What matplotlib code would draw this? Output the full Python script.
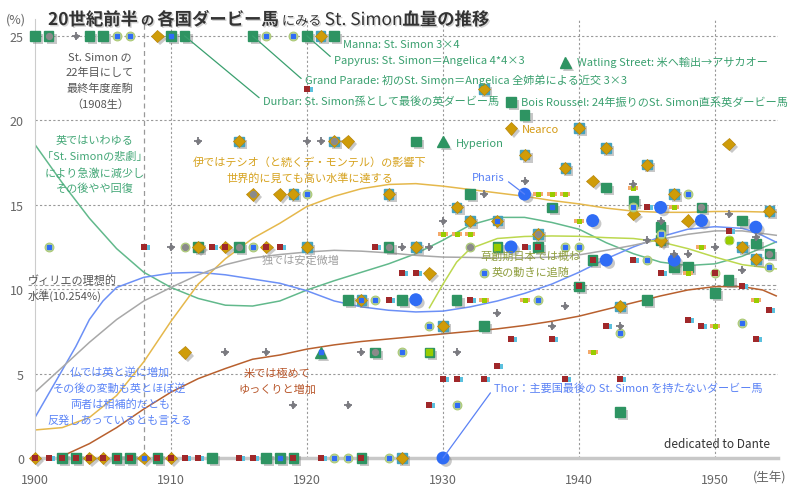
import matplotlib
matplotlib.use('Agg')
import matplotlib.pyplot as plt
import matplotlib.patheffects as pe
from matplotlib.path import Path

plt.rcParams['font.family'] = ['Noto Sans CJK JP', 'DejaVu Sans']

# ---- data (birth year, St. Simon blood %) ----
# England: green squares
uk_year = [1900, 1901, 1904, 1905, 1910, 1911, 1916, 1920, 1922,
           1928, 1932, 1935, 1936, 1942, 1944, 1946, 1938, 1949, 1952, 1946, 1953, 1954,
           1926, 1934, 1937, 1912, 1915, 1941, 1947, 1948, 1951, 1940, 1950,
           1923, 1927, 1931, 1945, 1933, 1925, 1929, 1943,
           1902, 1903, 1906, 1907, 1909, 1913, 1917, 1918, 1919, 1924]
uk_pct = [25, 25, 25, 25, 25, 25, 25, 25, 25,
          18.75, 15.625, 21.09, 20.31, 16.02, 15.23, 13.67, 14.84, 14.84, 14.06, 12.89, 12.7, 12.11,
          12.5, 12.5, 12.5, 12.5, 12.5, 11.72, 11.33, 11.33, 10.55, 10.16, 9.77,
          9.375, 9.375, 9.375, 9.375, 7.8125, 6.25, 6.25, 2.73,
          0, 0, 0, 0, 0, 0, 0, 0, 0, 0]
# England: highlighted winners (Watling Street, Hyperion, 1921)
bell_year = [1921, 1930, 1939]
bell_pct = [6.25, 18.75, 23.44]

# Italy: gold diamonds (on teal square / plain)
it_year = [1921, 1915, 1922, 1933, 1940, 1942, 1936, 1939, 1945, 1919, 1926, 1947, 1931,
           1954, 1932, 1934, 1937, 1920, 1928, 1952, 1953, 1924, 1943, 1930, 1927]
it_pct = [25, 18.75, 18.75, 21.875, 19.53, 18.36, 17.97, 17.19, 17.38, 15.625, 15.625, 15.625, 14.84,
          14.65, 14.06, 14.06, 13.28, 12.5, 12.5, 12.5, 11.8, 9.375, 8.98, 7.8125, 0]
it2_year = [1909, 1923, 1935, 1951, 1941, 1916, 1918, 1944, 1948, 1946, 1914, 1917, 1912,
            1929, 1911, 1900, 1904, 1905, 1908, 1910]
it2_pct = [25, 18.75, 19.53, 18.6, 16.41, 15.625, 15.625, 14.45, 14.06, 12.89, 12.5, 12.5, 12.5,
           10.94, 6.25, 0, 0, 0, 0, 0]

# ring markers (light green circles)
ring_year = [1906, 1907, 1917, 1919, 1901, 1916, 1920, 1948, 1944, 1946, 1939, 1940, 1945,
             1954, 1933, 1925, 1937, 1929, 1952, 1943, 1927, 1931, 1922, 1923, 1926,
             1911, 1932, 1950, 1951, 1935]
ring_pct = [25, 25, 25, 25, 12.5, 12.5, 15.625, 15.625, 14.84, 13.28, 12.5, 12.5, 11.72,
            11.33, 10.94, 9.375, 9.375, 7.8125, 8.0, 7.42, 6.25, 3.125, 0, 0, 0,
            12.5, 12.5, 10.94, 12.89, 12.5]

# France: large blue circles
fr_year = [1928, 1930, 1935, 1936, 1941, 1942, 1946, 1947, 1949, 1953]
fr_pct = [9.375, 0, 12.5, 15.625, 14.06, 11.72, 14.84, 11.72, 14.06, 13.67]

# small centre marks
blue_year = [1906, 1907, 1917, 1919, 1901, 1916, 1920, 1948, 1944, 1946, 1939, 1940, 1945,
             1954, 1933, 1925, 1937, 1929, 1952, 1943, 1927, 1931, 1922, 1923, 1926,
             1910, 1938, 1934, 1924, 1921, 1918, 1908]
blue_pct = [25, 25, 25, 25, 12.5, 12.5, 15.625, 15.625, 14.84, 13.28, 12.5, 12.5, 11.72,
            11.33, 10.94, 9.375, 9.375, 7.8125, 8.0, 7.42, 6.25, 3.125, 0, 0, 0,
            25, 14.84, 14.06, 9.375, 6.25, 0, 0]
grayin_year = [1901, 1922, 1916, 1937, 1915, 1926, 1949, 1954, 1925, 1911, 1932]
grayin_pct = [25, 18.75, 15.625, 13.28, 12.5, 12.5, 14.84, 12.11, 6.25, 12.5, 12.5]
redin_year = [1900, 1902, 1903, 1904, 1905, 1906, 1907, 1909, 1910, 1919, 1924,
              1914, 1917, 1937, 1941, 1940, 1950]
redin_pct = [0, 0, 0, 0, 0, 0, 0, 0, 0, 0, 0, 12.5, 12.5, 12.5, 11.72, 10.16, 10.94]
limein_year = [1934, 1929, 1951]
limein_pct = [12.5, 6.25, 12.89]

# Germany: gray stars
de_year = [1903, 1912, 1920, 1921, 1933, 1936, 1944, 1930, 1946, 1951, 1947, 1948, 1953,
           1945, 1910, 1927, 1929, 1950, 1952, 1939, 1934, 1938, 1943, 1914, 1917, 1924,
           1931, 1919, 1923]
de_pct = [25, 18.75, 18.75, 18.75, 15.625, 16.41, 16.23, 14.06, 14.06, 14.45, 12.11, 12.11, 13.09,
          12.89, 12.5, 12.5, 12.5, 12.5, 11.13, 8.98, 8.59, 7.8125, 7.8125, 6.25, 6.25, 6.25,
          6.25, 3.125, 3.125]

# USA: small red squares
us_year = [1920, 1908, 1913, 1918, 1925, 1936, 1945, 1951, 1927, 1928, 1946, 1944, 1952,
           1926, 1932, 1954, 1948, 1949, 1942, 1935, 1938, 1953, 1934, 1930, 1931, 1933,
           1939, 1943, 1929, 1901, 1911, 1912, 1915, 1916, 1921]
us_pct = [21.875, 12.5, 12.5, 12.5, 12.5, 12.5, 14.84, 13.47, 10.94, 10.94, 10.94, 11.72, 10.2,
          9.375, 9.375, 8.79, 8.2, 7.84, 7.84, 7.03, 7.03, 7.03, 5.47, 4.69, 4.69, 4.69,
          4.69, 4.69, 3.125, 0, 0, 0, 0, 0, 0]

# Japan: small lime marks
jp_year = [1937, 1938, 1939, 1944, 1947, 1930, 1931, 1932, 1940, 1933, 1936, 1953, 1949,
           1948, 1950, 1941]
jp_pct = [15.625, 15.625, 15.625, 16.0, 14.84, 13.28, 13.28, 13.28, 14.06, 9.375, 9.375, 9.375,
          12.5, 10.94, 7.8125, 6.25]

# trend curves
uk_cy = [1900, 1902, 1904, 1906, 1908, 1910, 1912, 1914, 1916, 1918, 1920, 1922, 1924, 1926,
         1928, 1930, 1932, 1934, 1936, 1938, 1940, 1942, 1944, 1946, 1948, 1950, 1952, 1954.5]
uk_cv = [18.56, 16.3, 14.2, 12.4, 11.0, 10.1, 9.45, 9.05, 9.0, 9.3, 9.95, 10.5, 11.0, 11.5,
         12.1, 12.9, 13.8, 14.25, 14.25, 13.95, 13.55, 12.75, 12.1, 11.6, 11.4, 11.5, 11.95, 12.8]
fr_cy = [1900, 1901, 1902, 1903, 1904, 1905, 1906, 1908, 1910, 1912, 1914, 1916, 1918, 1920,
         1922, 1924, 1926, 1928, 1930, 1932, 1934, 1936, 1938, 1940, 1942, 1944, 1946, 1948,
         1950, 1952, 1953, 1954.5]
fr_cv = [2.4, 3.8, 5.2, 6.6, 8.2, 9.3, 10.1, 10.7, 10.95, 11.0, 10.85, 10.6, 10.35, 9.9,
         9.3, 8.95, 8.75, 8.65, 8.7, 8.95, 9.3, 9.75, 10.3, 11.0, 11.8, 12.5, 13.1, 13.55,
         13.7, 13.6, 13.37, 12.78]
it_cy = [1900, 1902, 1904, 1906, 1908, 1910, 1912, 1914, 1916, 1918, 1920, 1922, 1924, 1926,
         1928, 1930, 1932, 1934, 1936, 1938, 1940, 1942, 1944, 1946, 1948, 1950, 1952, 1954.5]
it_cv = [1.66, 1.8, 2.4, 3.7, 5.7, 8.1, 10.3, 11.8, 13.0, 13.9, 14.9, 15.5, 15.95, 16.2,
         16.25, 16.1, 15.9, 15.7, 15.5, 15.25, 15.05, 14.8, 14.62, 14.55, 14.55, 14.6, 14.6, 14.55]
de_cy = [1900, 1902, 1904, 1906, 1908, 1910, 1912, 1914, 1916, 1918, 1920, 1922, 1924, 1926,
         1928, 1930, 1932, 1934, 1936, 1938, 1940, 1942, 1944, 1946, 1948, 1950, 1952, 1954.5]
de_cv = [3.9, 5.37, 6.85, 8.2, 9.3, 10.1, 10.85, 11.45, 11.85, 12.05, 12.2, 12.3, 12.25, 12.15,
         12.0, 11.9, 11.88, 11.85, 11.85, 11.9, 12.03, 12.3, 12.6, 12.95, 13.25, 13.45, 13.45, 13.19]
jp_cy = [1929, 1930, 1931, 1932, 1934, 1936, 1938, 1940, 1942, 1944, 1946, 1948, 1950, 1952, 1954.5]
jp_cv = [8.9, 10.3, 11.6, 12.4, 13.0, 13.12, 13.15, 13.13, 13.05, 13.0, 12.8, 12.4, 11.9, 11.45, 11.2]
us_cy = [1901.7, 1904, 1906, 1908, 1910, 1912, 1914, 1916, 1918, 1920, 1922, 1924, 1926, 1928,
         1930, 1932, 1934, 1936, 1938, 1940, 1942, 1944, 1946, 1948, 1950, 1952, 1953.5, 1954.5]
us_cv = [0, 0.85, 1.8, 2.9, 3.9, 4.7, 5.3, 5.85, 6.1, 6.45, 6.7, 6.9, 7.05, 7.2,
         7.35, 7.5, 7.65, 7.85, 8.1, 8.4, 8.8, 9.2, 9.6, 9.95, 10.15, 10.15, 9.95, 9.6]

ideal = 10.254
year_ticks = [1900, 1910, 1920, 1930, 1940, 1950]
pct_ticks = [0, 5, 10, 15, 20, 25]

# ---- colours ----
GREEN = '#2e9462'
TEAL = '#45a2bd'
GOLD = '#cf9c08'
BLUE = '#2f6cf5'
GRAY = '#7a7a80'
RED = '#a0282a'
LIME = '#99cc00'
shadow = [pe.SimplePatchShadow(offset=(2.2, -2.2), shadow_rgbFace='#777777', alpha=0.4), pe.Normal()]

fig = plt.figure(figsize=(8, 4.89), dpi=100)
ax = fig.add_axes([35 / 800, 30 / 489, 743 / 800, 439 / 489])
ax.set_xlim(1900, 1954.63)
ax.set_ylim(0, 26)

# grid
for v in [5, 10, 15, 20, 25]:
    ax.axhline(v, color='#999999', lw=0.8, ls=(0, (2, 2)), zorder=1)
ax.plot([1899.5, 1954.63], [ideal, ideal], color='#999999', lw=0.8, ls=(0, (3, 2)), zorder=1, clip_on=False)
for v in year_ticks[1:]:
    ax.axvline(v, color='#999999', lw=0.8, ls=(0, (2, 2)), zorder=1)
ax.axvline(1908, color='#999999', lw=0.9, ls=(0, (4, 3)), zorder=1)

# trend curves
ax.plot(uk_cy, uk_cv, color='#62b98c', lw=1.1, zorder=2)
ax.plot(fr_cy, fr_cv, color='#6c90f6', lw=1.1, zorder=2)
ax.plot(it_cy, it_cv, color='#e5b84c', lw=1.1, zorder=2)
ax.plot(de_cy, de_cv, color='#a8a8a8', lw=1.1, zorder=2)
ax.plot(jp_cy, jp_cv, color='#bcd84e', lw=1.1, zorder=2)
ax.plot(us_cy, us_cv, color='#b8602e', lw=1.1, zorder=2)

# leader lines + labels
lab_green = '#3aa06f'
def label(txt, xy, xyt, color, rel=(0, 0.5), line=True):
    kw = dict(arrowprops=dict(arrowstyle='-', color=color, lw=0.9, shrinkA=1, shrinkB=0, relpos=rel)) if line else {}
    ax.annotate(txt, xy=xy, xytext=xyt, color=color, fontsize=8, ha='left', va='center', zorder=8, **kw)

label('Durbar: St. Simon孫として最後の英ダービー馬', (uk_year[5], uk_pct[5]), (1916.76, 21.15), lab_green)
label('Grand Parade: 初のSt. Simon＝Angelica 全姉弟による近交 3×3', (uk_year[6], uk_pct[6]), (1919.85, 22.45), lab_green, rel=(0, 0.25))
label('Papyrus: St. Simon＝Angelica 4*4×3', (uk_year[7], uk_pct[7]), (1921.99, 23.58), lab_green)
label('Manna: St. Simon 3×4', (uk_year[8], uk_pct[8]), (1922.65, 24.53), lab_green, line=False)
label('Watling Street: 米へ輸出→アサカオー', (1939, 23.44), (1939.85, 23.46), lab_green, line=False)
label('Bois Roussel: 24年振りのSt. Simon直系英ダービー馬', (1935, 21.09), (1935.74, 21.09), lab_green, line=False)
label('Hyperion', (1930, 18.75), (1930.96, 18.66), lab_green, line=False)
label('Nearco', (1935, 19.53), (1935.8, 19.49), '#d49a14', line=False)
label('Pharis', (1936, 15.625), (1932.13, 16.65), '#5b82f5', rel=(1, 0.3))
label('Thor：主要国最後の St. Simon を持たないダービー馬', (1930, 0), (1933.75, 4.15), '#5b82f5')

# markers
ax.plot(it_year, it_pct, 's', ms=7, color=TEAL, zorder=3, clip_on=False, path_effects=shadow)
ax.plot(uk_year, uk_pct, 's', ms=7, color=GREEN, zorder=3, clip_on=False, path_effects=shadow)
ax.plot(bell_year, bell_pct, '^', ms=8, color=GREEN, zorder=3, clip_on=False, path_effects=shadow)
ax.plot(it_year, it_pct, 'D', ms=6.2, color=GOLD, mec='#b8860b', mew=0.5, zorder=4, clip_on=False)
ax.plot(it2_year, it2_pct, 'D', ms=6.5, color=GOLD, mec='#b8860b', mew=0.5, zorder=4, clip_on=False,
        path_effects=shadow)
ax.plot(ring_year, ring_pct, 'o', ms=6.3, mfc='#c5dc96', mec='#aac874', mew=0.8, zorder=4, clip_on=False)
ax.plot(fr_year, fr_pct, 'o', ms=8.3, color=BLUE, zorder=5, clip_on=False, path_effects=shadow)
ax.plot(blue_year, blue_pct, 's', ms=3.5, color=BLUE, zorder=6, clip_on=False)
ax.plot(grayin_year, grayin_pct, 'o', ms=4.2, color='#8a8a8a', zorder=6, clip_on=False)
ax.plot(limein_year, limein_pct, 's', ms=3.8, color=LIME, zorder=6, clip_on=False)

tab = Path([(0.2, -0.45), (1, -0.45), (1, 0.45), (0.2, 0.45), (0.2, -0.45)],
           [Path.MOVETO, Path.LINETO, Path.LINETO, Path.LINETO, Path.CLOSEPOLY])
bar = Path([(-1, -0.35), (1, -0.35), (1, 0.35), (-1, 0.35), (-1, -0.35)],
           [Path.MOVETO, Path.LINETO, Path.LINETO, Path.LINETO, Path.CLOSEPOLY])
ax.plot(us_year, us_pct, marker=tab, ls='none', ms=8, color='#5bc0de', mew=0, zorder=6, clip_on=False)
ax.plot(us_year, us_pct, 's', ms=3.8, color=RED, mew=0, zorder=6, clip_on=False)
ax.plot(redin_year, redin_pct, 's', ms=3.8, color=RED, mew=0, zorder=6, clip_on=False)
ax.plot(jp_year, jp_pct, marker=bar, ls='none', ms=7.5, color='#f4a96a', mew=0, zorder=6, clip_on=False)
ax.plot(jp_year, jp_pct, 's', ms=3.6, color=LIME, mew=0, zorder=6, clip_on=False)
ax.plot(de_year, de_pct, '+', ms=6, mew=1.3, color=GRAY, zorder=6, clip_on=False)
ax.plot(de_year, de_pct, 'o', ms=2.6, color=GRAY, zorder=6, clip_on=False)

# notes
def note(x, y, lines, color, ha='center', size=8):
    for i, s in enumerate(lines):
        ax.text(x, y - i * 0.95, s, color=color, fontsize=size, ha=ha, va='center', zorder=8)

note(1904.78, 23.82, ['St. Simon の', '22年目にして', '最終年度産駒', '（1908生）'], '#555555')
note(1904.41, 18.84, ['英ではいわゆる', '「St. Simonの悲劇」', 'により急激に減少し', 'その後やや回復'], '#45a878')
note(1920.22, 17.54, ['伊ではテシオ（と続くデ・モンテル）の影響下', '世界的に見ても高い水準に達する'], '#d6a21e')
note(1919.49, 11.73, ['独では安定微増'], '#a0a0a0')
note(1899.49, 10.6, ['ヴィリエの理想的', '水準(10.254%)'], '#555555', ha='left')
note(1936.4, 11.97, ['草創期日本では概ね', '英の動きに追随'], '#8f9e3e')
note(1906.25, 5.15, ['仏では英と逆に増加', 'その後の変動も英とほぼ逆', '両者は相補的だとも', '反発しあっているとも言える'], '#5b84f7')
note(1917.79, 5.04, ['米では極めて', 'ゆっくりと増加'], '#b8562a')
ax.text(1954.04, 0.83, 'dedicated to Dante', color='#333333', fontsize=8.5, ha='right', va='center')

# axes styling
for s in ['top', 'right']:
    ax.spines[s].set_visible(False)
ax.spines['left'].set_color('#cccccc')
ax.spines['bottom'].set_color('#c8c8c8')
ax.spines['bottom'].set_linewidth(2.5)
ax.set_xticks(year_ticks)
ax.set_yticks(pct_ticks)
ax.tick_params(length=0, labelsize=9, labelcolor='#666666')
ax.tick_params(axis='x', pad=11)
ax.tick_params(axis='y', pad=8)
fig.text(16 / 800, 1 - 20 / 489, '(%)', fontsize=9, color='#666666', ha='center', va='center')
fig.text(770 / 800, 1 - 478 / 489, '(生年)', fontsize=9, color='#666666', ha='center', va='center')

# title with mixed sizes
title_parts = [('20世紀前半', 12.5, 'bold'), (' の ', 9.5, 'bold'), ('各国ダービー馬', 12.5, 'bold'),
               (' にみる ', 9.5, 'normal'), ('St. Simon', 12.5, 'normal'), ('血量の推移', 12.5, 'bold')]
fig.canvas.draw()
r = fig.canvas.get_renderer()
x = 48
tshadow = [pe.SimplePatchShadow(offset=(1, -1), shadow_rgbFace='#888888', alpha=0.35), pe.Normal()]
for s, size, w in title_parts:
    t = fig.text(x / 800, 1 - 26 / 489, s, fontsize=size, fontweight=w, color='#333333',
                 va='baseline', ha='left', path_effects=tshadow)
    x += t.get_window_extent(renderer=r).width

fig.savefig('out.png', dpi=100)
